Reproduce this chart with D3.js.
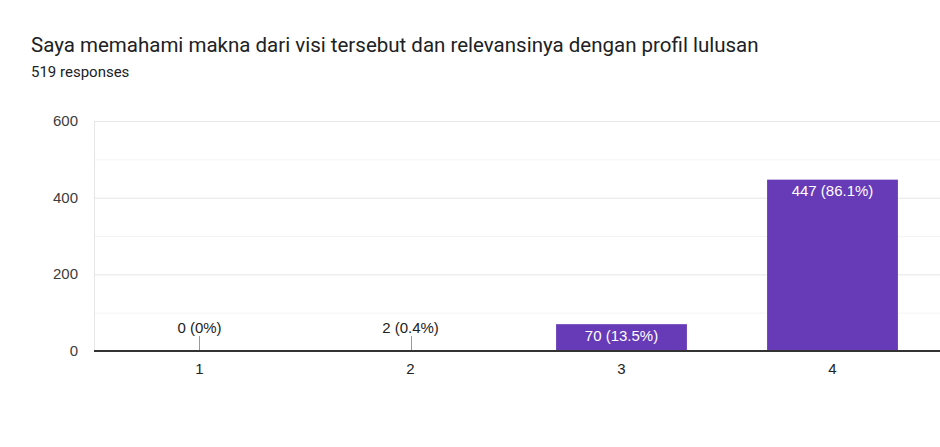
<!DOCTYPE html>
<html><head><meta charset="utf-8">
<script src="https://cdn.jsdelivr.net/npm/d3@7/dist/d3.min.js"></script>
<style>
body{margin:0;background:#fff;}
text{font-family:"Liberation Sans",Arial,sans-serif;}
</style></head>
<body>
<svg id="chart" width="940" height="447"></svg>
<script>
const categories = ["1","2","3","4"];
const values = [0, 2, 70, 447];
const percents = ["0%","0.4%","13.5%","86.1%"];
const yTicks = [0, 200, 400, 600];
const minorTicks = [100, 300, 500];
const total = 519;
const title = "Saya memahami makna dari visi tersebut dan relevansinya dengan profil lulusan";

const svg = d3.select("#chart");
const m = {left:94, right:940, top:121, bottom:351};

svg.append("text").attr("x",31).attr("y",52).attr("font-size",20.5).attr("fill","#202124")
  .style("font-family","Roboto, sans-serif").text(title);
svg.append("text").attr("x",31).attr("y",77).attr("font-size",15).attr("fill","#202124")
  .style("font-family","Roboto, sans-serif").text(total + " responses");

const x = d3.scaleBand().domain(categories).range([m.left, 938]).paddingInner(0.38).paddingOuter(0.19);
const y = d3.scaleLinear().domain([0,600]).range([m.bottom, m.top]);

// grid
svg.append("g").selectAll("line").data(minorTicks).join("line")
  .attr("x1",m.left).attr("x2",m.right).attr("y1",d=>y(d)+0.5).attr("y2",d=>y(d)+0.5)
  .attr("stroke","#f4f4f4");
svg.append("g").selectAll("line").data(yTicks.filter(d=>d>0)).join("line")
  .attr("x1",m.left).attr("x2",m.right).attr("y1",d=>y(d)+0.5).attr("y2",d=>y(d)+0.5)
  .attr("stroke","#e6e6e6");
svg.append("line").attr("x1",m.left+0.5).attr("x2",m.left+0.5).attr("y1",m.top).attr("y2",m.bottom)
  .attr("stroke","#e6e6e6");

// y tick labels
svg.append("g").selectAll("text").data(yTicks).join("text")
  .attr("x",78).attr("y",d=>y(d)+5).attr("text-anchor","end")
  .attr("font-size",15).attr("fill","#3c3c3c").text(d=>d);

// bars
const bw = x.bandwidth();
svg.append("g").selectAll("rect").data(values).join("rect")
  .attr("x",(d,i)=>x(categories[i]))
  .attr("y",d=>y(d))
  .attr("width",bw)
  .attr("height",d=>y(0)-y(d))
  .attr("fill","#673ab7");

// labels
values.forEach((v,i)=>{
  const cx = x(categories[i]) + bw/2;
  const lbl = v + " (" + percents[i] + ")";
  const h = y(0)-y(v);
  if (h > 20) {
    svg.append("text").attr("x",cx).attr("y",y(v)+16.5).attr("text-anchor","middle")
      .attr("font-size",15).attr("fill","#fff").text(lbl);
  } else {
    svg.append("line").attr("x1",Math.round(cx)+0.5).attr("x2",Math.round(cx)+0.5)
      .attr("y1",y(0)-15).attr("y2",y(v)).attr("stroke","#999");
    svg.append("text").attr("x",cx).attr("y",y(0)-18).attr("text-anchor","middle")
      .attr("font-size",15).attr("fill","#222").text(lbl);
  }
});

// baseline
svg.append("line").attr("x1",m.left).attr("x2",m.right).attr("y1",y(0)).attr("y2",y(0))
  .attr("stroke","#333").attr("stroke-width",2);

// x labels
svg.append("g").selectAll("text").data(categories).join("text")
  .attr("x",d=>x(d)+bw/2).attr("y",374).attr("text-anchor","middle")
  .attr("font-size",15).attr("fill","#222").text(d=>d);
</script>
</body></html>
